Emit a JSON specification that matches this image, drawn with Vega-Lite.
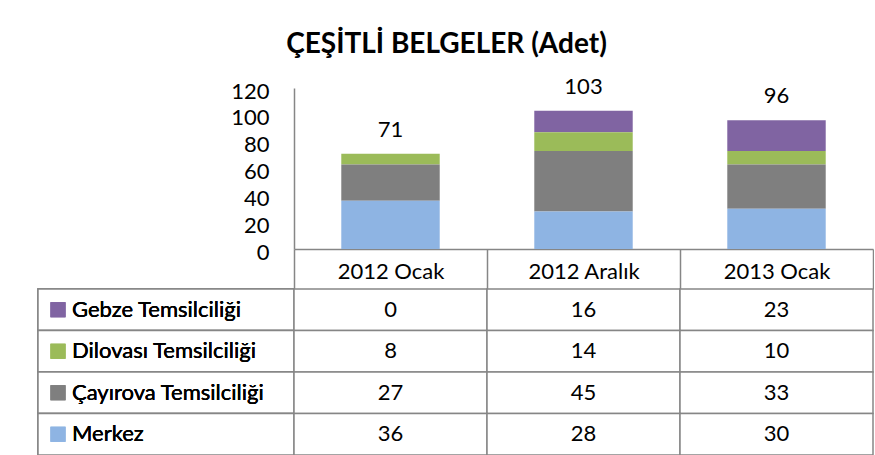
{
  "$schema": "https://vega.github.io/schema/vega-lite/v6.json",
  "padding": {"left": 37, "top": 30, "right": 0, "bottom": 0},
  "title": {"text": "ÇEŞİTLİ BELGELER (Adet)", "font": "Lato", "fontSize": 28, "fontWeight": "bold", "color": "#000000", "anchor": "middle", "dx": -9, "offset": 17},
  "data": {"values": [
    {"period": "2012 Ocak", "series": "Gebze Temsilciliği", "value": 0},
    {"period": "2012 Aralık", "series": "Gebze Temsilciliği", "value": 16},
    {"period": "2013 Ocak", "series": "Gebze Temsilciliği", "value": 23},
    {"period": "2012 Ocak", "series": "Dilovası Temsilciliği", "value": 8},
    {"period": "2012 Aralık", "series": "Dilovası Temsilciliği", "value": 14},
    {"period": "2013 Ocak", "series": "Dilovası Temsilciliği", "value": 10},
    {"period": "2012 Ocak", "series": "Çayırova Temsilciliği", "value": 27},
    {"period": "2012 Aralık", "series": "Çayırova Temsilciliği", "value": 45},
    {"period": "2013 Ocak", "series": "Çayırova Temsilciliği", "value": 33},
    {"period": "2012 Ocak", "series": "Merkez", "value": 36},
    {"period": "2012 Aralık", "series": "Merkez", "value": 28},
    {"period": "2013 Ocak", "series": "Merkez", "value": 30}
  ]},
  "columns": 2,
  "bounds": "flush",
  "spacing": {"row": 40, "column": 0},
  "concat": [
    {
      "width": 256, "height": 161,
      "mark": {"type": "text", "text": ""}
    },
    {
      "width": 579, "height": 161,
      "layer": [
        {
          "transform": [{"calculate": "indexof(['Merkez', 'Çayırova Temsilciliği', 'Dilovası Temsilciliği', 'Gebze Temsilciliği'], datum.series)", "as": "stackOrder"}],
          "mark": {"type": "bar", "width": {"band": 0.51}},
          "encoding": {
            "x": {"field": "period", "type": "nominal", "sort": ["2012 Ocak", "2012 Aralık", "2013 Ocak"],
              "scale": {"paddingInner": 0, "paddingOuter": 0},
              "axis": {"title": null, "labelAngle": 0, "tickBand": "extent", "tickSize": 40, "tickColor": "#868686", "tickWidth": 1.5,
                "domainColor": "#868686", "domainWidth": 1.5, "labelFont": "Lato", "labelFontSize": 22, "labelColor": "#000000", "labelPadding": -28}},
            "y": {"field": "value", "type": "quantitative", "stack": "zero",
              "scale": {"domain": [0, 120], "nice": false},
              "axis": {"title": null, "values": [0, 20, 40, 60, 80, 100, 120], "grid": false, "ticks": false, "labelOverlap": false,
                "domainColor": "#868686", "domainWidth": 1.5, "labelFont": "Lato", "labelFontSize": 22, "labelColor": "#000000", "labelPadding": 25, "labelOffset": 3}},
            "color": {"field": "series", "type": "nominal",
              "scale": {"domain": ["Merkez", "Çayırova Temsilciliği", "Dilovası Temsilciliği", "Gebze Temsilciliği"],
                "range": ["#8eb4e3", "#7f7f7f", "#9bbb59", "#8064a2"]},
              "legend": null},
            "order": {"field": "stackOrder", "type": "quantitative"}
          }
        },
        {
          "transform": [{"aggregate": [{"op": "sum", "field": "value", "as": "total"}], "groupby": ["period"]}],
          "mark": {"type": "text", "font": "Lato", "fontSize": 22, "color": "#000000", "dy": -24, "baseline": "middle"},
          "encoding": {
            "x": {"field": "period", "type": "nominal", "sort": ["2012 Ocak", "2012 Aralık", "2013 Ocak"],
              "axis": {"title": null, "labelAngle": 0, "tickBand": "extent", "tickSize": 40, "tickColor": "#868686", "tickWidth": 1.5,
                "domainColor": "#868686", "domainWidth": 1.5, "labelFont": "Lato", "labelFontSize": 22, "labelColor": "#000000", "labelPadding": -28}},
            "y": {"field": "total", "type": "quantitative",
              "axis": {"title": null, "values": [0, 20, 40, 60, 80, 100, 120], "grid": false, "ticks": false, "labelOverlap": false,
                "domainColor": "#868686", "domainWidth": 1.5, "labelFont": "Lato", "labelFontSize": 22, "labelColor": "#000000", "labelPadding": 25, "labelOffset": 3}},
            "text": {"field": "total", "type": "quantitative"}
          }
        }
      ]
    },
    {
      "width": 256, "height": 166,
      "layer": [
        {
          "mark": {"type": "rect", "fill": "#ffffff", "stroke": "#868686", "strokeWidth": 1.5},
          "encoding": {
            "y": {"field": "series", "type": "nominal", "sort": ["Gebze Temsilciliği", "Dilovası Temsilciliği", "Çayırova Temsilciliği", "Merkez"],
              "scale": {"paddingInner": 0, "paddingOuter": 0}, "axis": null},
            "x": {"value": 0},
            "x2": {"value": "width"}
          }
        },
        {
          "mark": {"type": "point", "shape": "square", "filled": true, "size": 225, "opacity": 1},
          "encoding": {
            "y": {"field": "series", "type": "nominal", "sort": ["Gebze Temsilciliği", "Dilovası Temsilciliği", "Çayırova Temsilciliği", "Merkez"]},
            "x": {"value": 20},
            "color": {"field": "series", "type": "nominal", "legend": null}
          }
        },
        {
          "mark": {"type": "text", "font": "Lato", "fontSize": 22, "color": "#000000", "align": "left", "baseline": "middle"},
          "encoding": {
            "y": {"field": "series", "type": "nominal", "sort": ["Gebze Temsilciliği", "Dilovası Temsilciliği", "Çayırova Temsilciliği", "Merkez"]},
            "x": {"value": 34},
            "text": {"field": "series", "type": "nominal"}
          }
        }
      ]
    },
    {
      "width": 579, "height": 166,
      "layer": [
        {
          "mark": {"type": "rect", "fill": "#ffffff", "stroke": "#868686", "strokeWidth": 1.5},
          "encoding": {
            "x": {"field": "period", "type": "nominal", "sort": ["2012 Ocak", "2012 Aralık", "2013 Ocak"],
              "scale": {"paddingInner": 0, "paddingOuter": 0}, "axis": null},
            "y": {"field": "series", "type": "nominal", "sort": ["Gebze Temsilciliği", "Dilovası Temsilciliği", "Çayırova Temsilciliği", "Merkez"],
              "scale": {"paddingInner": 0, "paddingOuter": 0}, "axis": null}
          }
        },
        {
          "mark": {"type": "text", "font": "Lato", "fontSize": 22, "color": "#000000", "baseline": "middle"},
          "encoding": {
            "x": {"field": "period", "type": "nominal", "sort": ["2012 Ocak", "2012 Aralık", "2013 Ocak"]},
            "y": {"field": "series", "type": "nominal", "sort": ["Gebze Temsilciliği", "Dilovası Temsilciliği", "Çayırova Temsilciliği", "Merkez"]},
            "text": {"field": "value", "type": "quantitative"}
          }
        }
      ]
    }
  ],
  "config": {"view": {"stroke": null}, "font": "Lato"}
}
